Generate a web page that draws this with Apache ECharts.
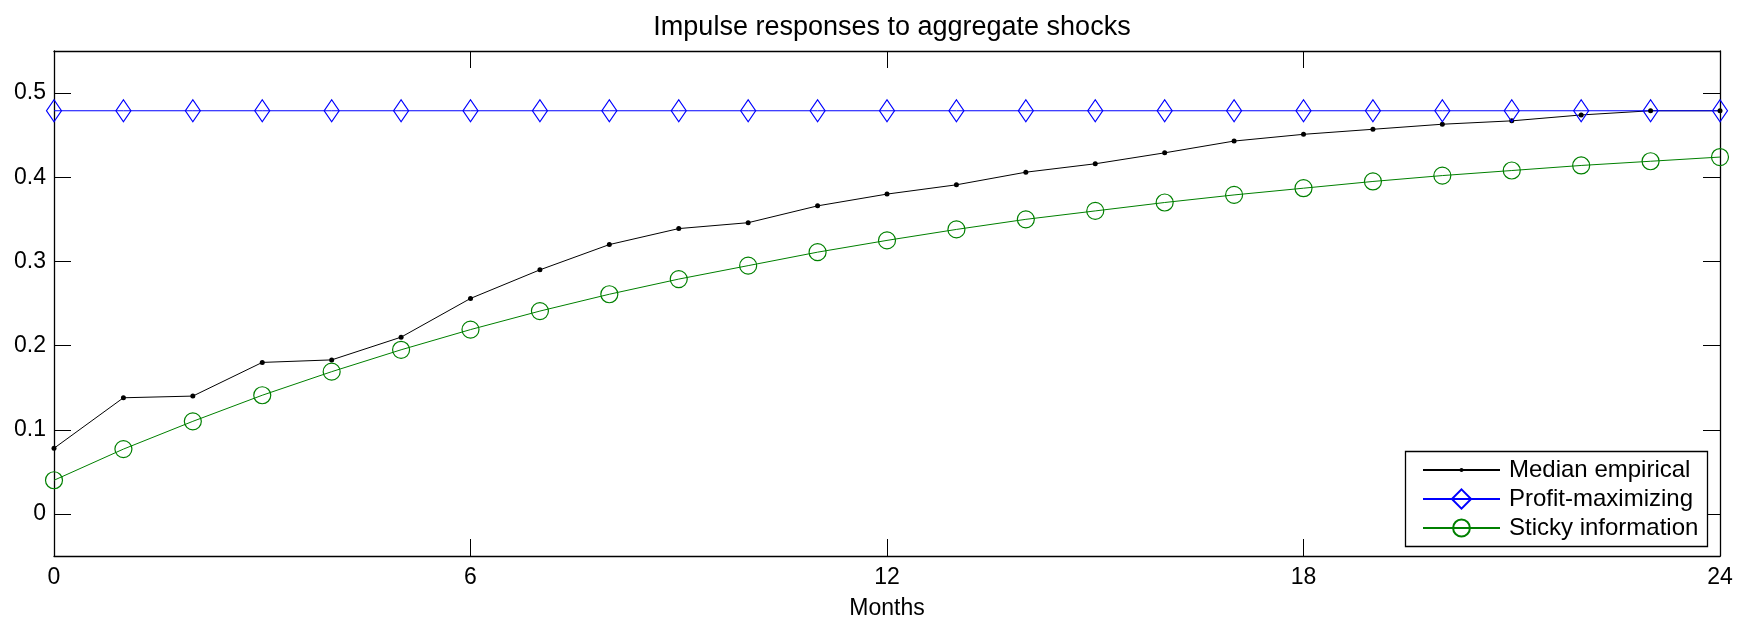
<!DOCTYPE html>
<html>
<head>
<meta charset="utf-8">
<script src="https://cdn.jsdelivr.net/npm/echarts@6/dist/echarts.min.js"></script>
<style>
html, body { margin: 0; padding: 0; background: #fff; }
#chart { width: 1737px; height: 625px; }
</style>
</head>
<body>
<div id="chart"></div>
<script>
// months after the shock
var months = [0, 1, 2, 3, 4, 5, 6, 7, 8, 9, 10, 11, 12, 13, 14, 15, 16, 17, 18, 19, 20, 21, 22, 23, 24];
var medianEmpirical = [0.078, 0.138, 0.140, 0.180, 0.183, 0.210, 0.256, 0.290, 0.320, 0.339, 0.346, 0.366, 0.380,
	0.391, 0.406, 0.416, 0.429, 0.443, 0.451, 0.457, 0.463, 0.467, 0.474, 0.479, 0.479];
var profitMaximizing = [0.479, 0.479, 0.479, 0.479, 0.479, 0.479, 0.479, 0.479, 0.479, 0.479, 0.479, 0.479, 0.479,
	0.479, 0.479, 0.479, 0.479, 0.479, 0.479, 0.479, 0.479, 0.479, 0.479, 0.479, 0.479];
var stickyInformation = [0.040, 0.077, 0.110, 0.141, 0.169, 0.195, 0.219, 0.241, 0.261, 0.279, 0.295, 0.311, 0.325,
	0.338, 0.350, 0.360, 0.370, 0.379, 0.387, 0.395, 0.402, 0.408, 0.414, 0.419, 0.424];
var yTicks = [0, 0.1, 0.2, 0.3, 0.4, 0.5];
var seriesNames = ['Median empirical', 'Profit-maximizing', 'Sticky information'];

var FONT = '"Liberation Sans", Arial, Helvetica, sans-serif';

function pairs(vals) {
	var out = [];
	for (var i = 0; i < months.length; i++) {
		out.push([months[i], vals[i]]);
	}
	return out;
}

function xAxisCfg(pos) {
	return {
		type: 'value', position: pos, min: 0, max: 24, interval: 6,
		axisLine: { onZero: false, lineStyle: { color: '#000', width: 1.3 } },
		axisTick: { inside: true, length: 17, lineStyle: { color: '#000', width: 1 } },
		axisLabel: { show: pos == 'bottom', color: '#000', fontSize: 23, fontFamily: FONT, margin: 10 },
		splitLine: { show: false },
		name: pos == 'bottom' ? 'Months' : '',
		nameLocation: 'middle',
		nameGap: 41,
		nameTextStyle: { color: '#000', fontSize: 23, fontFamily: FONT }
	};
}

function yAxisCfg(pos) {
	return {
		type: 'value', position: pos, min: -0.05, max: 0.55,
		axisLine: { onZero: false, lineStyle: { color: '#000', width: 1.3 } },
		axisTick: { inside: true, length: 17, customValues: yTicks, lineStyle: { color: '#000', width: 1 } },
		axisLabel: { show: pos == 'left', customValues: yTicks, color: '#000', fontSize: 23, fontFamily: FONT, margin: 8 },
		splitLine: { show: false }
	};
}

function legendCfg(name, top, itemHeight) {
	return {
		data: [name],
		orient: 'vertical',
		left: 1422,
		top: top,
		padding: 0,
		itemWidth: 77,
		itemHeight: itemHeight,
		selectedMode: false,
		textStyle: { color: '#000', fontSize: 24, fontFamily: FONT, padding: [0, 0, 0, 4] }
	};
}

var chart = echarts.init(document.getElementById('chart'), null, { renderer: 'canvas' });

var option = {
	backgroundColor: '#ffffff',
	animation: false,
	title: {
		text: 'Impulse responses to aggregate shocks',
		left: 887,
		textAlign: 'center',
		top: 9,
		textStyle: { color: '#000', fontSize: 27, fontWeight: 'normal', fontFamily: FONT }
	},
	grid: { left: 54, right: 17, top: 51, bottom: 65, containLabel: false },
	xAxis: [xAxisCfg('bottom'), xAxisCfg('top')],
	yAxis: [yAxisCfg('left'), yAxisCfg('right')],
	legend: [
		legendCfg(seriesNames[0], 470 - 12, 5),
		legendCfg(seriesNames[1], 499 - 12, 24),
		legendCfg(seriesNames[2], 528 - 12, 21)
	],
	graphic: [{
		type: 'rect',
		z: 3,
		shape: { x: 1405.5, y: 451.5, width: 302, height: 95 },
		style: { fill: '#fff', stroke: '#000', lineWidth: 1.3 }
	}],
	series: [
		{
			name: seriesNames[0], type: 'line', data: pairs(medianEmpirical),
			symbol: 'circle', symbolSize: 5,
			lineStyle: { color: '#000', width: 1 },
			itemStyle: { color: '#000' },
			emphasis: { disabled: true }
		},
		{
			name: seriesNames[1], type: 'line', data: pairs(profitMaximizing),
			symbol: 'diamond', symbolSize: [15, 22],
			lineStyle: { color: '#0000ff', width: 1 },
			itemStyle: { color: 'rgba(0,0,0,0)', borderColor: '#0000ff', borderWidth: 1.2 },
			emphasis: { disabled: true }
		},
		{
			name: seriesNames[2], type: 'line', data: pairs(stickyInformation),
			symbol: 'circle', symbolSize: 17,
			lineStyle: { color: '#008000', width: 1 },
			itemStyle: { color: 'rgba(0,0,0,0)', borderColor: '#008000', borderWidth: 1.2 },
			emphasis: { disabled: true }
		}
	]
};

chart.setOption(option);
</script>
</body>
</html>
